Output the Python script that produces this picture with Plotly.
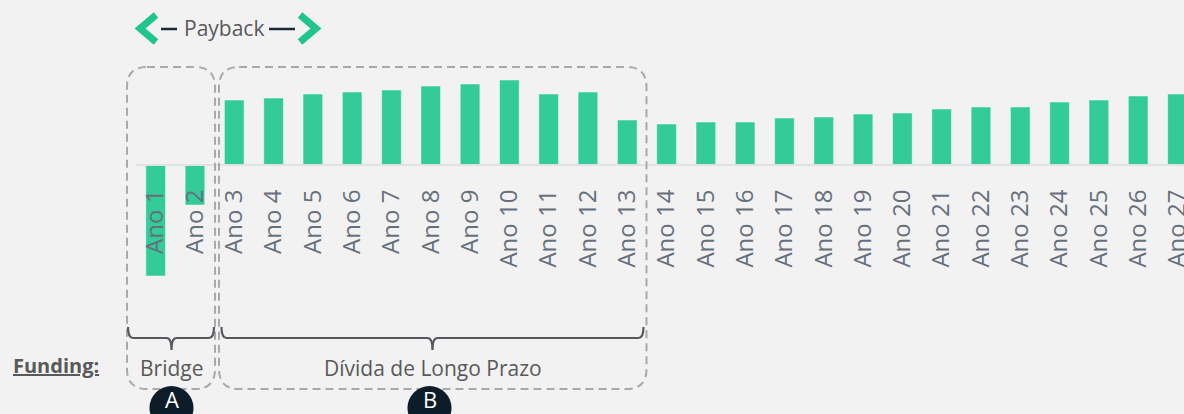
import plotly.graph_objects as go

# ---- data ----
categories = ["Ano 1", "Ano 2", "Ano 3", "Ano 4", "Ano 5", "Ano 6", "Ano 7", "Ano 8", "Ano 9",
              "Ano 10", "Ano 11", "Ano 12", "Ano 13", "Ano 14", "Ano 15", "Ano 16", "Ano 17",
              "Ano 18", "Ano 19", "Ano 20", "Ano 21", "Ano 22", "Ano 23", "Ano 24", "Ano 25",
              "Ano 26", "Ano 27"]
values = [-111, -40, 65, 67, 71, 73, 75, 79, 81, 85, 71, 73, 45, 41, 43, 43, 47, 48, 51, 52,
          56, 58, 58, 63, 65, 69, 71]
funding_labels = ["Bridge", "Dívida de Longo Prazo"]
badge_labels = ["A", "B"]

W, H, L = 1184, 414, 136
BG = "#f2f2f2"
GREEN = "#33cc99"
CHEV = "#1fc48e"
GRAY_TXT = "#595959"
FONT = "Open Sans"


def px(x):
    return (x - L) / (W - L)


def py(y):
    return 1 - y / H


def P(x, y):
    return f"{px(x):.5f},{py(y):.5f}"


def rrect(x0, y0, x1, y1, r):
    return (f"M {P(x0 + r, y0)} L {P(x1 - r, y0)} Q {P(x1, y0)} {P(x1, y0 + r)} "
            f"L {P(x1, y1 - r)} Q {P(x1, y1)} {P(x1 - r, y1)} "
            f"L {P(x0 + r, y1)} Q {P(x0, y1)} {P(x0, y1 - r)} "
            f"L {P(x0, y0 + r)} Q {P(x0, y0)} {P(x0 + r, y0)} Z")


def brace(x0, x1, xm, y, ytop, ytip, r=5):
    return (f"M {P(x0, ytop)} Q {P(x0, y)} {P(x0 + r, y)} L {P(xm - r, y)} "
            f"Q {P(xm, y)} {P(xm, ytip)} Q {P(xm, y)} {P(xm + r, y)} "
            f"L {P(x1 - r, y)} Q {P(x1, y)} {P(x1, ytop)}")


fig = go.Figure()
fig.add_trace(go.Bar(
    x=categories, y=values,
    marker=dict(color=GREEN, line=dict(color="rgba(255,255,255,0.45)", width=1)),
    hoverinfo="skip",
))

shapes = []
dash_line = dict(color="#a9a9a9", width=2, dash="8px,5px")
# dashed rounded boxes
shapes.append(dict(type="path", xref="paper", yref="paper", path=rrect(127, 67, 215, 389, 20),
                   line=dash_line, layer="above"))
shapes.append(dict(type="path", xref="paper", yref="paper", path=rrect(219, 67, 646.5, 389, 20),
                   line=dash_line, layer="above"))
# braces
brace_line = dict(color="#55595d", width=2.2)
shapes.append(dict(type="path", xref="paper", yref="paper",
                   path=brace(128, 214, 171.5, 338, 327, 350), line=brace_line))
shapes.append(dict(type="path", xref="paper", yref="paper",
                   path=brace(221.5, 643.5, 432.5, 338, 327, 350), line=brace_line))
# payback chevrons
shapes.append(dict(type="path", xref="paper", yref="paper",
                   path=f"M {P(156, 15)} L {P(140, 28.5)} L {P(156, 42)}",
                   line=dict(color=CHEV, width=7)))
shapes.append(dict(type="path", xref="paper", yref="paper",
                   path=f"M {P(300, 15)} L {P(316, 28.5)} L {P(300, 42)}",
                   line=dict(color=CHEV, width=7)))
# payback dashes
for (a, b) in [(161, 177), (269, 295)]:
    shapes.append(dict(type="line", xref="paper", yref="paper",
                       x0=px(a), x1=px(b), y0=py(29), y1=py(29),
                       line=dict(color="#1b2a38", width=2.5)))
# badges
for cx in [171.5, 429.5]:
    shapes.append(dict(type="circle", xref="paper", yref="paper",
                       x0=px(cx - 22), x1=px(cx + 22), y0=py(386), y1=py(430),
                       fillcolor="#0c1d29", line=dict(width=0), layer="above"))

annotations = []


def ann(text, x, y, size=21, color=GRAY_TXT, xanchor="center"):
    annotations.append(dict(text=text, x=px(x), y=py(y), xref="paper", yref="paper",
                            showarrow=False, xanchor=xanchor, yanchor="middle",
                            font=dict(family=FONT, size=size, color=color)))


ann("Payback", 224, 28)
ann("<u><b>Funding:</b></u>", 11, 365, size=20, xanchor="left")
ann(funding_labels[0], 171.5, 368)
ann(funding_labels[1], 433, 368)
ann(badge_labels[0], 171.5, 399, size=22, color="white")
ann(badge_labels[1], 429.5, 399, size=22, color="white")

fig.update_layout(
    width=W, height=H,
    margin=dict(l=L, r=0, t=0, b=0),
    paper_bgcolor=BG, plot_bgcolor=BG,
    showlegend=False,
    bargap=0.5,
    shapes=shapes,
    annotations=annotations,
    xaxis=dict(type="category", range=[-0.5, -0.5 + (W - L) / 39.3],
               showline=True, linecolor="#dfe2e6", linewidth=2,
               anchor="free", position=py(165), side="bottom",
               tickangle=-90, ticks="outside", ticklen=14, tickcolor="rgba(0,0,0,0)",
               tickfont=dict(family=FONT, size=24, color="#66707c"),
               showgrid=False, zeroline=False, automargin=False, fixedrange=True),
    yaxis=dict(visible=False, range=[-(H - 165), 165], showgrid=False, zeroline=False,
               fixedrange=True),
)

fig.write_html("out.html", config={"displayModeBar": False},
               post_script="document.body.style.margin='0';document.body.style.background='#f2f2f2';")
